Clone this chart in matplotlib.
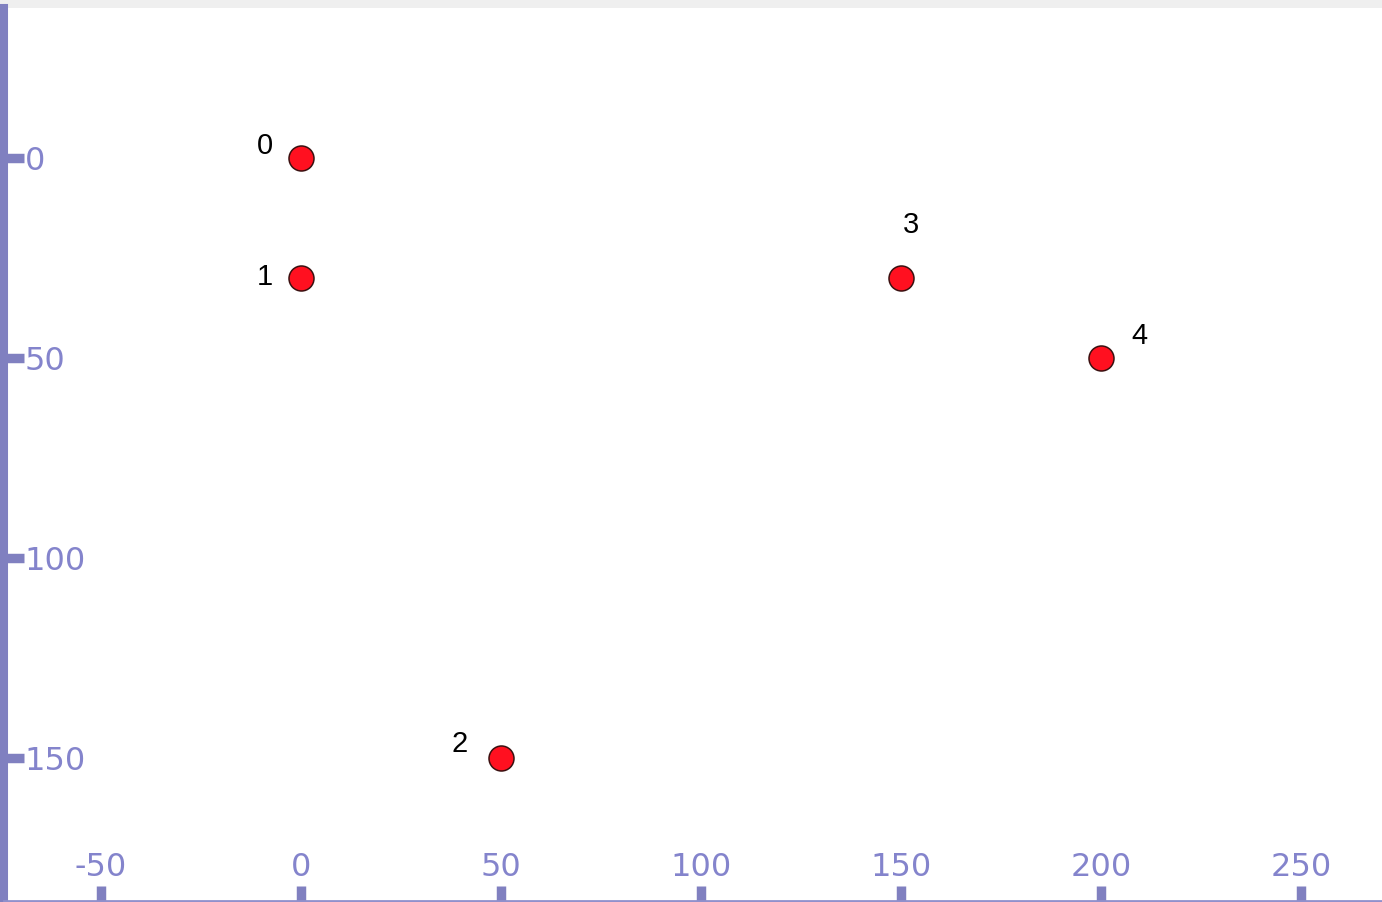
import matplotlib
matplotlib.use("Agg")
import matplotlib.pyplot as plt
from matplotlib.patches import Rectangle

# data
node_ids = ["0", "1", "2", "3", "4"]
xs = [0, 0, 50, 150, 200]
ys = [0, 30, 150, 30, 50]
# label offsets (points) relative to each node
label_dx = [-26, -26, -29.5, 7, 27.5]
label_dy = [8.5, 0.5, 10, 38.5, 15.5]
x_ticks = [-50, 0, 50, 100, 150, 200, 250]
y_ticks = [0, 50, 100, 150]

W, H, DPI = 1382, 902, 100
fig = plt.figure(figsize=(W / DPI, H / DPI), dpi=DPI)
fig.patch.set_facecolor("white")
fig.add_artist(Rectangle((0, (H - 8) / H), 1, 8 / H, transform=fig.transFigure,
                         facecolor="#efefef", edgecolor="none", zorder=0))

ax = fig.add_axes([4 / W, 1 / H, (W - 4) / W, (H - 9) / H])
ax.set_xlim(-74.25, 270.25)
ax.set_ylim(185.75, -37.5)

axis_col = "#8080c0"
label_col = "#8484cc"

ax.scatter(xs, ys, s=18 ** 2, c="#ff1020", edgecolors="#3a1010", linewidths=1.1, zorder=3)
for i, t in enumerate(node_ids):
    ax.annotate(t, (xs[i], ys[i]), xytext=(label_dx[i], label_dy[i]),
                textcoords="offset points", ha="center", va="center",
                fontsize=21, family="Liberation Sans", color="black")

for s in ["top", "right"]:
    ax.spines[s].set_visible(False)
ax.spines["left"].set_color(axis_col)
ax.spines["left"].set_linewidth(5.8)
ax.spines["bottom"].set_color("#9090cc")
ax.spines["bottom"].set_linewidth(2.0)

ax.set_xticks(x_ticks)
ax.set_yticks(y_ticks)
ax.set_xticklabels([str(v) for v in x_ticks])
ax.set_yticklabels([str(v) for v in y_ticks])
ax.tick_params(axis="x", direction="in", length=11, width=6.8, color=axis_col,
               labelcolor=label_col, labelsize=23, pad=-35)
ax.tick_params(axis="y", direction="in", length=14.5, width=6.8, color=axis_col,
               labelcolor=label_col, labelsize=23, pad=-15)
for lab in ax.get_yticklabels():
    lab.set_ha("left")
    lab.set_family("DejaVu Sans")

fig.savefig("out.png", dpi=DPI)
